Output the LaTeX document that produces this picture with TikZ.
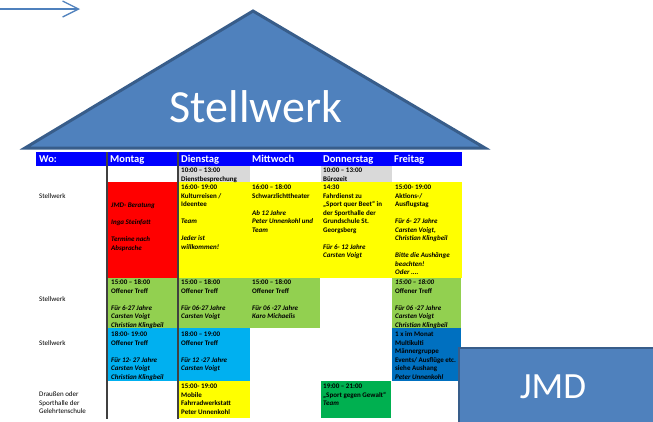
\documentclass[tikz,border=0pt]{standalone}
\usepackage{fontspec}
\setmainfont{Carlito}
\usetikzlibrary{arrows.meta}
\definecolor{roofblue}{HTML}{4F81BD}
\definecolor{roofedge}{HTML}{385D8A}
\definecolor{hdrblue}{HTML}{0000FF}
\definecolor{cgrey}{HTML}{D9D9D9}
\definecolor{cred}{HTML}{FF0000}
\definecolor{cyellow}{HTML}{FFFF00}
\definecolor{cgreen}{HTML}{92D050}
\definecolor{ccyan}{HTML}{00B0F0}
\definecolor{cdblue}{HTML}{0070C0}
\definecolor{cdgreen}{HTML}{00B050}
\definecolor{gridline}{HTML}{404040}
\begin{document}
\begin{tikzpicture}[x=1pt,y=-1pt,
  celltxt/.style={anchor=north west, inner sep=0pt, align=left, text=black,
    font=\fontsize{7}{8.5}\selectfont\bfseries},
  wotxt/.style={anchor=north west, inner sep=0pt, align=left, text=black,
    font=\fontsize{7}{8.5}\selectfont},
  hdr/.style={anchor=base west, inner sep=0pt, text=white,
    font=\fontsize{10.5}{12}\selectfont\bfseries},
  bigtitle/.style={inner sep=0pt, text=white},
  roof/.style={fill=roofblue, draw=roofedge, line width=3pt},
  jmdbox/.style={fill=roofblue, draw=roofedge, line width=2.5pt},
  vline/.style={draw=gridline, line width=1.2pt},
  arrowline/.style={draw=roofblue, line width=1.3pt, -{Straight Barb[length=16pt,width=16pt]}}
]
\useasboundingbox (0,0) rectangle (653,421);
\clip (0,0) rectangle (653,421);
\fill[white] (0,0) rectangle (653,421);

% arrow
\coordinate (arrS) at (0,9);
\coordinate (arrE) at (80,9);
\draw[arrowline] (arrS) -- (arrE);

% roof
\filldraw[roof] (253,11) -- (485,148) -- (25,148) -- cycle;
\node[bigtitle, font=\fontsize{46}{50}\selectfont] (title) at (256,107) {Stellwerk};

% header
\fill[hdrblue] (36,152) rectangle (462,166);
% cells
\fill[cgrey] (178,166) rectangle (250,182);
\fill[cgrey] (321,166) rectangle (392,182);
\fill[cred] (107,182) rectangle (178,278);
\fill[cyellow] (178,182) rectangle (462,278);
\fill[cgreen] (107,278) rectangle (250,328);
\fill[cgreen] (250,278) rectangle (320,328);
\fill[cgreen] (392,278) rectangle (461,328);
\fill[ccyan] (107,328) rectangle (250,381);
\fill[cdblue] (392,328) rectangle (461,381);
\fill[cyellow] (178,381) rectangle (250,418);
\fill[cdgreen] (321,381) rectangle (391,418);
\draw[vline] (107,152) -- (107,419);
\draw[vline] (178,152) -- (178,419);

% header text
\node[hdr] (hWo) at (39,162.5) {Wo:};
\node[hdr] (hMo) at (110,162.5) {Montag};
\node[hdr] (hDi) at (181,162.5) {Dienstag};
\node[hdr] (hMi) at (252,162.5) {Mittwoch};
\node[hdr] (hDo) at (323,162.5) {Donnerstag};
\node[hdr] (hFr) at (394,162.5) {Freitag};

% Wo column
\node[wotxt] (w2) at (39,196-3.7) {\rule{0pt}{6pt}Stellwerk};
\node[wotxt] (w3) at (39,299-3.7) {\rule{0pt}{6pt}Stellwerk};
\node[wotxt] (w4) at (39,343-3.7) {\rule{0pt}{6pt}Stellwerk};
\node[wotxt] (w5) at (39,394-3.7) {\rule{0pt}{6pt}Draußen oder\\ Sporthalle der\\ Gelehrtenschule};

% row 1
\node[celltxt] (d1) at (181,170-3.7) {\rule{0pt}{6pt}10:00 – 13:00\\ Dienstbesprechung};
\node[celltxt] (do1) at (323,170-3.7) {\rule{0pt}{6pt}10:00 – 13:00\\ Bürozeit};

% row 2
\node[celltxt] (m2) at (111,205-3.7) {\rule{0pt}{6pt}\textit{JMD- Beratung}\\[8.5pt] \textit{Inga Steinfatt}\\[8.5pt] \textit{Termine nach}\\ \textit{Absprache}};
\node[celltxt] (d2) at (181,187-3.7) {\rule{0pt}{6pt}16:00- 19:00\\ Kulturreisen /\\ Ideentee\\[8.5pt] \textit{Team}\\[8.5pt] \textit{Jeder ist}\\ \textit{willkommen!}};
\node[celltxt] (mi2) at (252,187-3.7) {\rule{0pt}{6pt}16:00 – 18:00\\ Schwarzlichttheater\\[8.5pt] \textit{Ab 12 Jahre}\\ \textit{Peter Unnenkohl und}\\ \textit{Team}};
\node[celltxt] (do2) at (323,187-3.7) {\rule{0pt}{6pt}14:30\\ Fahrdienst zu\\ „Sport quer Beet“ in\\ der Sporthalle der\\ Grundschule St.\\ Georgsberg\\[8.5pt] \textit{Für 6- 12 Jahre}\\ \textit{Carsten Voigt}};
\node[celltxt] (f2) at (395,187-3.7) {\rule{0pt}{6pt}15:00- 19:00\\ Aktions-/\\ Ausflugstag\\[8.5pt] \textit{Für 6- 27 Jahre}\\ \textit{Carsten Voigt,}\\ \textit{Christian Klingbeil}\\[8.5pt] \textit{Bitte die Aushänge}\\ \textit{beachten!}\\ \textit{Oder ....}};

% row 3
\node[celltxt] (m3) at (111,282-3.7) {\rule{0pt}{6pt}15:00 – 18:00\\ Offener Treff\\[8.5pt] \textit{Für 6-27 Jahre}\\ \textit{Carsten Voigt}\\ \textit{Christian Klingbeil}};
\node[celltxt] (d3) at (181,282-3.7) {\rule{0pt}{6pt}15:00 – 18:00\\ Offener Treff\\[8.5pt] \textit{Für 06-27 Jahre}\\ \textit{Carsten Voigt}};
\node[celltxt] (mi3) at (252,282-3.7) {\rule{0pt}{6pt}15:00 – 18:00\\ Offener Treff\\[8.5pt] \textit{Für 06 -27 Jahre}\\ \textit{Karo Michaelis}};
\node[celltxt] (f3) at (395,282-3.7) {\rule{0pt}{6pt}\textit{15:00 – 18:00}\\ Offener Treff\\[8.5pt] \textit{Für 06 -27 Jahre}\\ \textit{Carsten Voigt}\\ \textit{Christian Klingbeil}};

% row 4
\node[celltxt] (m4) at (111,334-3.7) {\rule{0pt}{6pt}18:00- 19:00\\ Offener Treff\\[8.5pt] \textit{Für 12- 27 Jahre}\\ \textit{Carsten Voigt}\\ \textit{Christian Klingbeil}};
\node[celltxt] (d4) at (181,334-3.7) {\rule{0pt}{6pt}18:00 – 19:00\\ Offener Treff\\[8.5pt] \textit{Für 12 -27 Jahre}\\ \textit{Carsten Voigt}};
\node[celltxt] (f4) at (395,334-3.7) {\rule{0pt}{6pt}1 x im Monat\\ Multikulti\\ Männergruppe\\ Events/ Ausflüge etc.\\ siehe Aushang\\ \textit{Peter Unnenkohl}};

% row 5
\node[celltxt] (d5) at (181,386-3.7) {\rule{0pt}{6pt}15:00- 19:00\\ Mobile\\ Fahrradwerkstatt\\ Peter Unnenkohl};
\node[celltxt] (do5) at (323,386-3.7) {\rule{0pt}{6pt}19:00 – 21:00\\ „Sport gegen Gewalt“\\ \textit{Team}};

% JMD box
\filldraw[jmdbox] (459,348) rectangle (680,440);
\node[bigtitle, font=\fontsize{37}{40}\selectfont] (jmd) at (553,387) {JMD};
\end{tikzpicture}
\end{document}
